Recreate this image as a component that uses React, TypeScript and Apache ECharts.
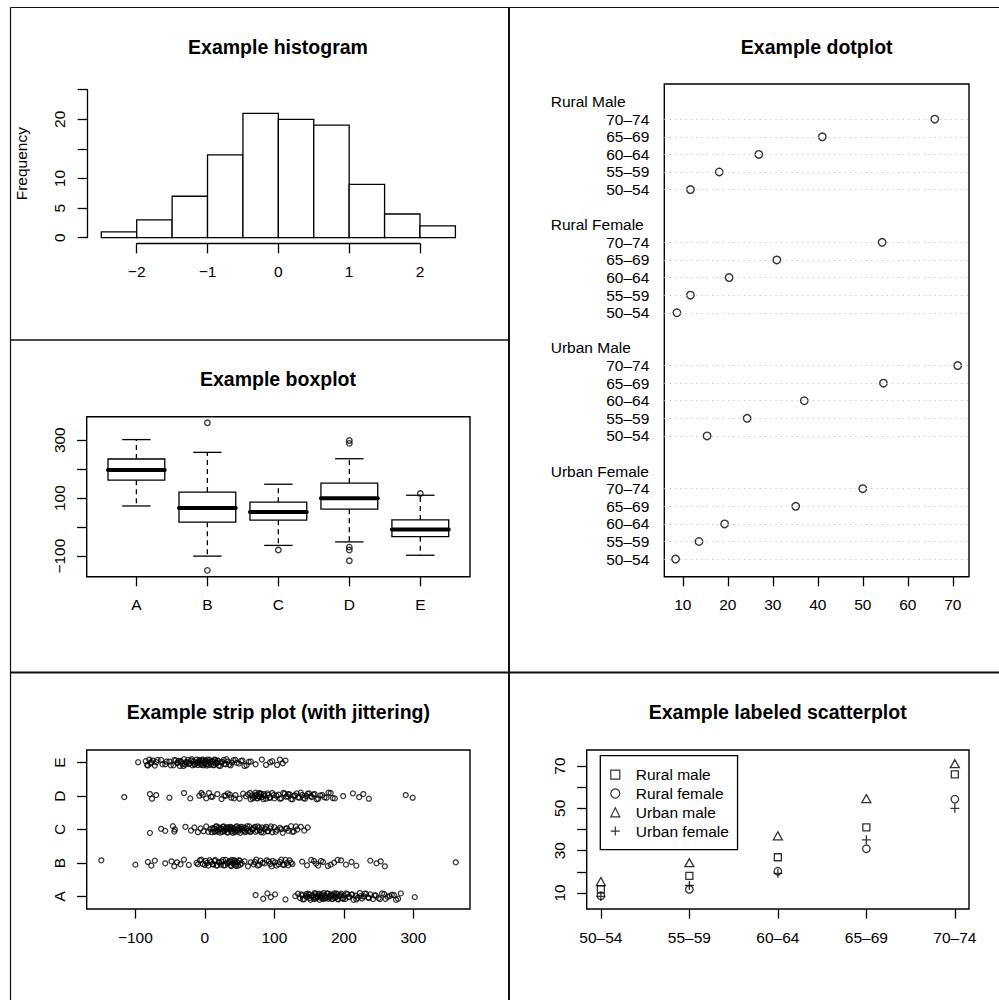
import React, { useEffect, useRef } from "react";
import * as echarts from "echarts";

const FONT = "'Liberation Sans', Arial, Helvetica, sans-serif";
const FS = 15.5;
const BLACK = "#000";

// ---------- Histogram ----------
const HIST_BREAKS = [-2.5, -2, -1.5, -1, -0.5, 0, 0.5, 1, 1.5, 2, 2.5];
const HIST_COUNTS = [1, 3, 7, 14, 21, 20, 19, 9, 4, 2];
const HIST_X_TICKS = [-2, -1, 0, 1, 2];
const HIST_Y_TICKS = [0, 5, 10, 15, 20, 25];
const HIST_Y_LABELS = [0, 5, 10, 20];

// ---------- Boxplot ----------
const GROUPS = ["A", "B", "C", "D", "E"];
const GROUP_POS = [1, 2, 3, 4, 5];
const BOX_MIN = [73, -100, -63, -51, -97];
const BOX_Q1 = [162, 17, 24, 62, -33];
const BOX_MEDIAN = [197, 66, 52, 100, -8];
const BOX_Q3 = [235, 121, 86, 152, 25];
const BOX_MAX = [302, 258, 148, 236, 110];
const BOX_OUTLIERS = [[], [360, -149], [-79], [299, 289, -69, -79, -116], [116]];
const BOX_Y_TICKS = [-100, 0, 100, 200, 300];
const BOX_Y_LABELS = [-100, 100, 300];

// ---------- VADeaths (dotplot + labeled scatterplot) ----------
const AGE_GROUPS = ["50–54", "55–59", "60–64", "65–69", "70–74"];
const POPULATIONS = ["Rural Male", "Rural Female", "Urban Male", "Urban Female"];
const RURAL_MALE = [11.7, 18.1, 26.9, 41.0, 66.0];
const RURAL_FEMALE = [8.7, 11.7, 20.3, 30.9, 54.3];
const URBAN_MALE = [15.4, 24.3, 37.0, 54.6, 71.1];
const URBAN_FEMALE = [8.4, 13.6, 19.3, 35.1, 50.0];
const DOT_X_TICKS = [10, 20, 30, 40, 50, 60, 70];
const SCATTER_LEGEND = ["Rural male", "Rural female", "Urban male", "Urban female"];
const SCATTER_Y_TICKS = [10, 20, 30, 40, 50, 60, 70];
const SCATTER_Y_LABELS = [10, 30, 50, 70];

// ---------- Strip plot ----------
const STRIP_A = [73, 84, 90, 95, 101, 116, 130, 134, 137, 140, 143, 146, 148, 150, 152, 154, 156, 158, 160, 162, 164, 166, 168, 170, 172, 174, 176, 178, 180, 182, 184, 186, 188, 190, 192, 194, 196, 198, 200, 202, 205, 208, 211, 214, 217, 220, 223, 226, 229, 232, 235, 238, 242, 246, 250, 255, 260, 266, 272, 278, 282, 302,
  139, 141, 145, 149, 151, 155, 157, 159, 161, 163, 165, 167, 169, 171, 173, 175, 177, 179, 181, 183, 185, 187, 189, 191, 193, 195, 199, 203, 207, 212, 218, 224, 230, 236, 244, 252, 258, 263, 269, 275];
const STRIP_B = [-149, -100, -82, -77, -72, -57, -48, -44, -40, -35, -30, -23, -12, -7, -3, 1, 5, 9, 12, 15, 18, 21, 24, 27, 30, 33, 36, 38, 40, 42, 44, 46, 48, 50, 53, 57, 62, 66, 70, 74, 78, 83, 89, 94, 98, 103, 108, 112, 116, 120, 124, 140, 147, 153, 160, 167, 177, 186, 196, 203, 211, 218, 238, 247, 253, 259, 361,
  -10, -5, 0, 3, 7, 11, 14, 17, 20, 23, 26, 29, 32, 35, 37, 39, 41, 43, 45, 47, 49, 51, 72, 76, 80, 86, 92, 96, 101, 106, 110, 114, 118, 122, 126, 157, 163, 170, 181, 191];
const STRIP_C = [-79, -63, -57, -46, -44, -43, -28, -20, -15, -10, -6, -2, 2, 5, 8, 11, 14, 16, 18, 20, 22, 24, 26, 28, 30, 32, 34, 36, 38, 40, 42, 44, 46, 48, 50, 52, 54, 56, 58, 60, 62, 64, 66, 68, 70, 73, 76, 79, 82, 84, 86, 88, 91, 94, 97, 100, 104, 108, 112, 116, 120, 124, 128, 133, 138, 143, 148,
  10, 13, 15, 17, 19, 21, 23, 25, 27, 29, 31, 33, 35, 37, 39, 41, 43, 45, 47, 49, 51, 53, 57, 61, 65, 69, 72, 75, 78, 81, 87, 90, 95, 102, 110, 118, 126, 131];
const STRIP_D = [-116, -79, -76, -70, -51, -30, -21, -8, -3, 2, 6, 11, 18, 24, 28, 33, 38, 44, 50, 55, 59, 62, 66, 68, 71, 73, 75, 77, 80, 82, 85, 88, 91, 94, 97, 100, 103, 106, 110, 113, 117, 120, 124, 128, 132, 136, 140, 144, 148, 152, 156, 161, 166, 172, 178, 184, 199, 213, 222, 228, 236, 289, 299,
  65, 69, 72, 74, 76, 78, 79, 81, 84, 86, 90, 93, 99, 108, 115, 119, 122, 126, 130, 134, 138, 142, 146, 150, 154, 158, 163, 169, 175, 181, 187, 30, 36, 42, -5, 9];
const STRIP_E = [-96, -85, -83, -80, -78, -75, -72, -70, -63, -57, -51, -45, -42, -40, -38, -36, -34, -32, -30, -28, -26, -24, -22, -20, -18, -16, -14, -12, -10, -9, -7, -5, -3, -1, 1, 3, 5, 7, 9, 11, 13, 15, 17, 19, 22, 25, 28, 31, 35, 39, 44, 49, 54, 60, 66, 73, 82, 88, 94, 97, 104, 108, 112, 116,
  -82, -77, -68, -61, -55, -49, -44, -39, -35, -31, -27, -23, -19, -15, -11, -8, -6, -4, -2, 0, 2, 4, 6, 8, 10, 12, 14, 16, 18, 20, 23, 27, 30, 33, 37, 41, 46, 52, 57, 63];
const JITTER = [0.04, -0.07, 0.09, -0.02, 0.06, -0.09, 0.01, 0.08, -0.05, 0.03, -0.08, 0.07, -0.01, 0.05, -0.1, 0.02, -0.04, 0.1, -0.06, 0.0, 0.08, -0.03, 0.06, -0.08, 0.03, -0.05, 0.09, -0.07, 0.01];
const STRIP_X_TICKS = [-100, 0, 100, 200, 300];

const minus = (v: number) => String(v).replace("-", "\u2212");
const baseText = { color: BLACK, fontSize: FS, fontFamily: FONT };

function axis(gridIndex: number, min: number, max: number, o: any = {}) {
  const { axisLine, ...rest } = o;
  return {
    type: "value",
    gridIndex,
    min,
    max,
    splitLine: { show: false },
    axisLine: { show: false, onZero: false, ...(axisLine || {}) },
    axisTick: { show: false },
    axisLabel: { show: false },
    ...rest,
  };
}
function ticks(values: number[]) {
  return { show: true, customValues: values, length: 9.6, inside: false, lineStyle: { color: BLACK, width: 1.3 } };
}
function labels(values: number[], formatter: (v: number) => string, o: any = {}) {
  return { show: true, customValues: values, formatter, margin: 20, ...baseText, ...o };
}
const frame = { show: true, borderColor: BLACK, borderWidth: 1.4, backgroundColor: "transparent" };

function buildOption() {
  const dotValues = [RURAL_MALE, RURAL_FEMALE, URBAN_MALE, URBAN_FEMALE];
  const rowY = (p: number, a: number) => (3 - p) * 7 + a + 1;
  const rowYs: number[] = [];
  const dotData: number[][] = [];
  dotValues.forEach((vals, p) =>
    vals.forEach((v, a) => {
      rowYs.push(rowY(p, a));
      dotData.push([v, rowY(p, a)]);
    })
  );
  const groupYs = POPULATIONS.map((_, p) => (3 - p) * 7 + 6);

  const strips = [STRIP_A, STRIP_B, STRIP_C, STRIP_D, STRIP_E];
  const stripData: number[][] = [];
  strips.forEach((vals, k) =>
    vals.forEach((v, i) => stripData.push([v, k + 1 + JITTER[(i + k * 7) % JITTER.length]]))
  );

  const outliers: number[][] = [];
  BOX_OUTLIERS.forEach((arr, i) => arr.forEach((v) => outliers.push([GROUP_POS[i], v])));

  const emptyStyle = { color: "rgba(0,0,0,0)", borderColor: BLACK, borderWidth: 1.3 };
  const scatterSymbols = ["rect", "circle", "triangle", "path://M4,0L4,8M0,4L8,4"];
  const scatterSizes = [7, 7.5, [9, 8], 9];

  const titleText = (text: string, x: number, y: number) => ({
    type: "text",
    x,
    y,
    silent: true,
    style: {
      text,
      font: `bold 19.5px ${FONT}`,
      fill: BLACK,
      textAlign: "center",
      textVerticalAlign: "middle",
      align: "center",
      verticalAlign: "middle",
    },
  });
  const sep = (x1: number, y1: number, x2: number, y2: number, w: number) => ({
    type: "line",
    silent: true,
    shape: { x1, y1, x2, y2 },
    style: { stroke: "#111", lineWidth: w },
  });

  return {
    animation: false,
    backgroundColor: "#fff",
    textStyle: { fontFamily: FONT },
    grid: [
      { left: 101.3, top: 89.7, width: 354.1, height: 148, outerBoundsMode: "none" },
      { left: 136.7, top: 89.7, width: 283.3, height: 148, outerBoundsMode: "none" },
      { left: 86.7, top: 416.7, width: 383.3, height: 160, outerBoundsMode: "none", ...frame },
      { left: 664.3, top: 84, width: 304.7, height: 492.7, outerBoundsMode: "none", ...frame },
      { left: 86.7, top: 750, width: 383.3, height: 159, outerBoundsMode: "none", ...frame },
      { left: 586.7, top: 750, width: 382.3, height: 159, outerBoundsMode: "none", ...frame },
    ],
    xAxis: [
      axis(0, -2.5, 2.5, { position: "bottom" }),
      axis(1, -2, 2, {
        position: "bottom",
        offset: 6,
        axisLine: { show: true, lineStyle: { color: BLACK, width: 1.3 } },
        axisTick: ticks(HIST_X_TICKS),
        axisLabel: labels(HIST_X_TICKS, minus),
      }),
      axis(2, 0.3, 5.7, {
        position: "bottom",
        axisTick: ticks(GROUP_POS),
        axisLabel: labels(GROUP_POS, (v) => GROUPS[Math.round(v) - 1]),
      }),
      axis(3, 5.892, 73.608, {
        position: "bottom",
        axisTick: ticks(DOT_X_TICKS),
        axisLabel: labels(DOT_X_TICKS, (v) => String(v)),
      }),
      axis(4, -170, 381.5, {
        position: "bottom",
        axisTick: ticks(STRIP_X_TICKS),
        axisLabel: labels(STRIP_X_TICKS, minus),
      }),
      axis(5, 0.84, 5.16, {
        position: "bottom",
        axisTick: ticks(GROUP_POS),
        axisLabel: labels(GROUP_POS, (v) => AGE_GROUPS[Math.round(v) - 1]),
      }),
    ],
    yAxis: [
      axis(0, 0, 25, {
        position: "left",
        offset: 14,
        axisLine: { show: true, lineStyle: { color: BLACK, width: 1.3 } },
        axisTick: ticks(HIST_Y_TICKS),
        axisLabel: labels(HIST_Y_LABELS, minus, { rotate: 90, margin: 19.5 }),
        name: "Frequency",
        nameLocation: "middle",
        nameGap: 58,
        nameTextStyle: baseText,
      }),
      axis(1, 0, 25, { position: "left" }),
      axis(2, -171, 381, {
        position: "left",
        axisTick: ticks(BOX_Y_TICKS),
        axisLabel: labels(BOX_Y_LABELS, minus, { rotate: 90, margin: 19.5 }),
      }),
      axis(3, 0, 28, {
        position: "left",
        axisLabel: labels(rowYs, (v) => AGE_GROUPS[(Math.round(v) - 1) % 7], { margin: 15 }),
      }),
      axis(3, 0, 28, {
        position: "left",
        axisLabel: labels(groupYs, (v) => POPULATIONS[3 - (Math.round(v) - 6) / 7], { margin: 113.6, align: "left" }),
      }),
      axis(4, 0.624, 5.376, {
        position: "left",
        axisTick: ticks(GROUP_POS),
        axisLabel: labels(GROUP_POS, (v) => GROUPS[Math.round(v) - 1], { rotate: 90, margin: 19.5 }),
      }),
      axis(5, 2.44, 77.56, {
        position: "left",
        axisTick: ticks(SCATTER_Y_TICKS),
        axisLabel: labels(SCATTER_Y_LABELS, (v) => String(v), { rotate: 90, margin: 19.5 }),
      }),
    ],
    legend: {
      show: true,
      orient: "vertical",
      left: 600.3,
      top: 755.7,
      data: SCATTER_LEGEND,
      borderColor: BLACK,
      borderWidth: 1.3,
      padding: [11, 8.7, 10.5, 9.9],
      itemGap: 2.8,
      itemWidth: 9,
      itemHeight: 9,
      selectedMode: false,
      textStyle: { ...baseText, padding: [0, 0, 0, 11] },
      itemStyle: { color: "rgba(0,0,0,0)", borderColor: BLACK, borderWidth: 1.2 },
    },
    graphic: [
      sep(10.5, 7.5, 999, 7.5, 1.2),
      sep(10.5, 7.5, 10.5, 1000, 1.2),
      sep(509, 7.5, 509, 1000, 2),
      sep(10.5, 340, 509, 340, 1.6),
      sep(10.5, 672.5, 999, 672.5, 2),
      titleText("Example histogram", 278, 46.7),
      titleText("Example boxplot", 278, 379.3),
      titleText("Example dotplot", 816.7, 46.7),
      titleText("Example strip plot (with jittering)", 278.3, 711.7),
      titleText("Example labeled scatterplot", 777.7, 711.7),
    ],
    series: [
      {
        type: "custom",
        silent: true,
        xAxisIndex: 0,
        yAxisIndex: 0,
        encode: { x: [0, 1], y: 2 },
        data: HIST_COUNTS.map((c, i) => [HIST_BREAKS[i], HIST_BREAKS[i + 1], c]),
        renderItem: (_p: any, api: any) => {
          const p0 = api.coord([api.value(0), api.value(2)]);
          const p1 = api.coord([api.value(1), 0]);
          return {
            type: "rect",
            shape: { x: p0[0], y: p0[1], width: p1[0] - p0[0], height: p1[1] - p0[1] },
            style: { fill: "#fff", stroke: BLACK, lineWidth: 1.3 },
          };
        },
      },
      {
        type: "custom",
        silent: true,
        xAxisIndex: 2,
        yAxisIndex: 2,
        encode: { x: 0, y: [1, 2, 3, 4, 5] },
        data: GROUPS.map((_, i) => [GROUP_POS[i], BOX_MIN[i], BOX_Q1[i], BOX_MEDIAN[i], BOX_Q3[i], BOX_MAX[i]]),
        renderItem: (_p: any, api: any) => {
          const x = api.value(0);
          const cx = api.coord([x, 0])[0];
          const y = (d: number) => api.coord([x, api.value(d)])[1];
          const yMin = y(1), yQ1 = y(2), yMed = y(3), yQ3 = y(4), yMax = y(5);
          const unit = api.size([1, 0])[0];
          const hb = unit * 0.4;
          const hs = unit * 0.2;
          const ls = { stroke: BLACK, lineWidth: 1.3 };
          return {
            type: "group",
            children: [
              { type: "line", shape: { x1: cx, y1: yQ3, x2: cx, y2: yMax }, style: { ...ls, lineDash: [5, 4] } },
              { type: "line", shape: { x1: cx, y1: yQ1, x2: cx, y2: yMin }, style: { ...ls, lineDash: [5, 4] } },
              { type: "line", shape: { x1: cx - hs, y1: yMax, x2: cx + hs, y2: yMax }, style: ls },
              { type: "line", shape: { x1: cx - hs, y1: yMin, x2: cx + hs, y2: yMin }, style: ls },
              { type: "rect", shape: { x: cx - hb, y: yQ3, width: 2 * hb, height: yQ1 - yQ3 }, style: { fill: "#fff", ...ls } },
              { type: "line", shape: { x1: cx - hb, y1: yMed, x2: cx + hb, y2: yMed }, style: { stroke: BLACK, lineWidth: 4, lineCap: "round" } },
            ],
          };
        },
      },
      {
        type: "scatter",
        silent: true,
        xAxisIndex: 2,
        yAxisIndex: 2,
        symbol: "circle",
        symbolSize: 5.5,
        itemStyle: emptyStyle,
        data: outliers,
      },
      {
        type: "scatter",
        silent: true,
        xAxisIndex: 3,
        yAxisIndex: 3,
        symbol: "circle",
        symbolSize: 7.5,
        itemStyle: { ...emptyStyle, borderWidth: 1.4 },
        data: dotData,
        z: 3,
        markLine: {
          silent: true,
          symbol: ["none", "none"],
          label: { show: false },
          lineStyle: { type: [1.3, 4], color: "#c8c8c8", width: 1.2 },
          data: rowYs.map((v) => ({ yAxis: v })),
        },
      },
      {
        type: "scatter",
        silent: true,
        xAxisIndex: 4,
        yAxisIndex: 5,
        symbol: "circle",
        symbolSize: 5,
        itemStyle: { ...emptyStyle, borderWidth: 1.25 },
        data: stripData,
      },
      ...[RURAL_MALE, RURAL_FEMALE, URBAN_MALE, URBAN_FEMALE].map((vals, s) => ({
        type: "scatter",
        name: SCATTER_LEGEND[s],
        silent: true,
        xAxisIndex: 5,
        yAxisIndex: 6,
        symbol: scatterSymbols[s],
        symbolSize: scatterSizes[s],
        itemStyle: emptyStyle,
        data: vals.map((v, i) => [GROUP_POS[i], v]),
      })),
    ],
  };
}

export default function App() {
  const ref = useRef<HTMLDivElement>(null);
  useEffect(() => {
    if (!ref.current) return;
    const chart = echarts.init(ref.current, null, { renderer: "svg", width: 999, height: 1000 });
    chart.setOption(buildOption() as any);
    return () => chart.dispose();
  }, []);
  return (
    <div
      ref={ref}
      style={{ position: "fixed", left: 0, top: 0, width: 999, height: 1000, background: "#fff" }}
    />
  );
}
